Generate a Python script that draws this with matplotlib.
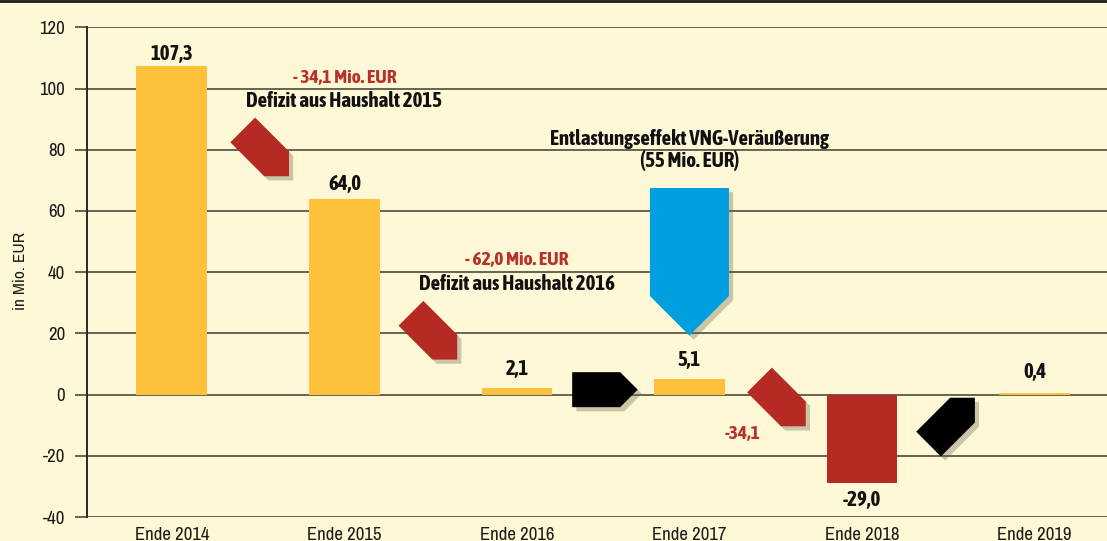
import matplotlib
matplotlib.use("Agg")
import matplotlib.pyplot as plt
import matplotlib.transforms as mtransforms
import matplotlib.patheffects as pe
from matplotlib.patches import Polygon
from matplotlib.lines import Line2D

# data
categories = ["Ende 2014", "Ende 2015", "Ende 2016", "Ende 2017", "Ende 2018", "Ende 2019"]
values = [107.3, 64.0, 2.1, 5.1, -29.0, 0.4]
value_labels = ["107,3", "64,0", "2,1", "5,1", "-29,0", "0,4"]
yticks = [-40, -20, 0, 20, 40, 60, 80, 100, 120]

deficit_2015 = ["- 34,1 Mio. EUR", "Defizit aus Haushalt 2015"]
deficit_2016 = ["- 62,0 Mio. EUR", "Defizit aus Haushalt 2016"]
vng_text = ["Entlastungseffekt VNG-Veräußerung", "(55 Mio. EUR)"]
deficit_2018 = "-34,1"

# styling
BG = "#FFF8D6"
YELLOW = "#FDC13C"
RED = "#B52A23"
BLUE = "#009FE0"
GRID = "#5A584B"
TXT_RED = "#B8312B"
BOLD = dict(family=["Asap Condensed", "DejaVu Sans"], fontweight="bold")

matplotlib.rcParams["font.family"] = ["Archivo Narrow", "DejaVu Sans"]
matplotlib.rcParams["font.stretch"] = "condensed"

bar_colors = [YELLOW, YELLOW, YELLOW, YELLOW, RED, YELLOW]
label_gap = [4.5, 6.5, 9.5, 9, -16.5, 11]   # points between bar end and label baseline

fig = plt.figure(figsize=(11.07, 5.41), dpi=100)
fig.patch.set_facecolor(BG)
ax = fig.add_axes([87.3 / 1107, 24 / 541, 1 - 87.3 / 1107, (517 - 27.3) / 541])
ax.set_facecolor(BG)

ax.set_xlim(-0.49, 5.42)
ax.set_ylim(-40, 120)
ax.set_yticks(yticks)
ax.set_yticklabels([str(t) for t in yticks])
ax.set_xticks(range(len(categories)))
ax.set_xticklabels(categories)
ax.tick_params(axis="y", length=9, width=1.3, color=GRID, pad=7, labelsize=13.5, labelcolor="#1a1a1a")
ax.tick_params(axis="x", length=0, pad=7, labelsize=13.5, labelcolor="#1a1a1a")
for s in ["top", "right", "bottom"]:
    ax.spines[s].set_visible(False)
ax.spines["left"].set_color("#2a2a22")
ax.spines["left"].set_linewidth(1.4)
ax.grid(axis="y", color=GRID, linewidth=1.3)
ax.set_axisbelow(True)

ax.bar(range(len(values)), values, width=0.41, color=bar_colors, zorder=2)

for i, (v, lab) in enumerate(zip(values, value_labels)):
    ax.annotate(lab, (i, v), xytext=(0, label_gap[i]), textcoords="offset points",
                ha="center", va="baseline", fontsize=15, color="#111111", **BOLD)

# annotation texts
ax.text(1, 101.7, deficit_2015[0], ha="center", va="baseline", fontsize=14, color=TXT_RED, **BOLD)
ax.text(1, 94.0, deficit_2015[1], ha="center", va="baseline", fontsize=15, color="#111111", **BOLD)
ax.text(2, 42.3, deficit_2016[0], ha="center", va="baseline", fontsize=14, color=TXT_RED, **BOLD)
ax.text(2, 34.2, deficit_2016[1], ha="center", va="baseline", fontsize=15, color="#111111", **BOLD)
ax.text(3, 81.5, vng_text[0], ha="center", va="baseline", fontsize=15, color="#111111", **BOLD)
ax.text(3, 74.3, vng_text[1], ha="center", va="baseline", fontsize=15, color="#111111", **BOLD)
ax.text(3.31, -14.5, deficit_2018, ha="center", va="baseline", fontsize=14, color=TXT_RED, **BOLD)

# tag-shaped arrows (pixel units), placed in data coords
L, H = 48, 17.5
half = (L + H) / 2
tag = [(-half, -H), (-half + L, -H), (half, 0), (-half + L, H), (-half, H)]
arrows = [  # x, y, angle, color
    (0.545, 78.9, -45, RED),
    (1.52, 19.0, -45, RED),
    (2.51, 1.6, 0, "black"),
    (3.54, -2.8, -45, RED),
    (4.52, -8.6, 45, "black"),
]
shadow = [pe.SimplePatchShadow(offset=(3, -3), shadow_rgbFace="#6b6650", alpha=0.35), pe.Normal()]
for x, y, ang, col in arrows:
    tr = mtransforms.Affine2D().rotate_deg(ang) + mtransforms.ScaledTranslation(x, y, ax.transData)
    p = Polygon(tag, closed=True, transform=tr, facecolor=col, edgecolor="none", zorder=3)
    p.set_path_effects(shadow)
    ax.add_patch(p)

# blue arrow (VNG), data coords
bx, bw = 3, 0.229
blue = Polygon([(bx - bw, 67.5), (bx + bw, 67.5), (bx + bw, 32.2), (bx, 19.3), (bx - bw, 32.2)],
               closed=True, facecolor=BLUE, edgecolor="none", zorder=3)
blue.set_path_effects(shadow)
ax.add_patch(blue)

fig.text(21 / 1107, 1 - 271 / 541, "in Mio. EUR", rotation=90, ha="center", va="center",
         fontsize=12.5, color="#1a1a1a")

fig.add_artist(Line2D([0, 1], [1 - 1.2 / 541, 1 - 1.2 / 541], transform=fig.transFigure,
                      color="#1a1a1a", linewidth=2))

fig.savefig("out.png", dpi=100, facecolor=BG)
